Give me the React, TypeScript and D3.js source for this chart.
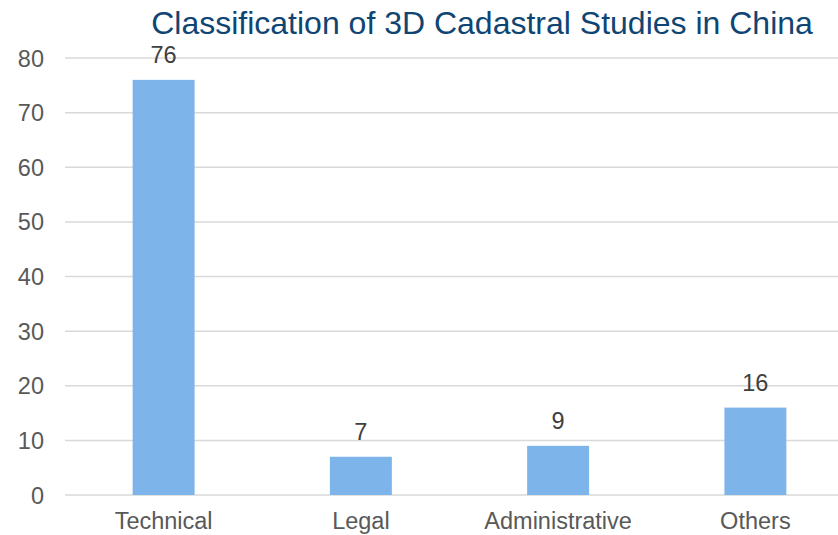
import { scaleBand, scaleLinear } from "d3";

const categories = ["Technical", "Legal", "Administrative", "Others"];
const counts = [76, 7, 9, 16];
const yTicks = [0, 10, 20, 30, 40, 50, 60, 70, 80];
const title = "Classification of 3D Cadastral Studies in China";

const W = 838;
const H = 535;

export default function App() {
  // plot area runs past the right edge, like the source image
  const x = scaleBand<string>()
    .domain(categories)
    .range([65, 854])
    .paddingInner(0.686)
    .paddingOuter(0.343);

  const y = scaleLinear().domain([0, 80]).range([495, 58]);

  const font = "Arial, 'Liberation Sans', sans-serif";

  return (
    <div style={{ position: "fixed", left: 0, top: 0 }}>
      <svg width={W} height={H} style={{ display: "block", background: "#fff" }}>
        {/* Grid lines */}
        {yTicks.map((t) => (
          <line
            key={t}
            x1={65}
            x2={W}
            y1={y(t)}
            y2={y(t)}
            stroke="#d9d9d9"
            strokeWidth={1.5}
          />
        ))}

        {/* Y axis labels */}
        {yTicks.map((t) => (
          <text
            key={t}
            x={44}
            y={y(t) + 8.5}
            textAnchor="end"
            fontFamily={font}
            fontSize={23.5}
            fill="#595959"
          >
            {t}
          </text>
        ))}

        {/* Bars */}
        {categories.map((c, i) => (
          <rect
            key={c}
            x={x(c)}
            y={y(counts[i])}
            width={x.bandwidth()}
            height={y(0) - y(counts[i])}
            fill="#7db4ea"
          />
        ))}

        {/* Data labels */}
        {categories.map((c, i) => (
          <text
            key={c}
            x={(x(c) ?? 0) + x.bandwidth() / 2}
            y={y(counts[i]) - 17}
            textAnchor="middle"
            fontFamily={font}
            fontSize={23.5}
            fill="#404040"
          >
            {counts[i]}
          </text>
        ))}

        {/* Category labels */}
        {categories.map((c) => (
          <text
            key={c}
            x={(x(c) ?? 0) + x.bandwidth() / 2}
            y={529}
            textAnchor="middle"
            fontFamily={font}
            fontSize={23.5}
            fill="#595959"
          >
            {c}
          </text>
        ))}

        {/* Title */}
        <text
          x={482}
          y={34}
          textAnchor="middle"
          fontFamily={font}
          fontSize={32}
          fill="#0f4573"
        >
          {title}
        </text>
      </svg>
    </div>
  );
}
